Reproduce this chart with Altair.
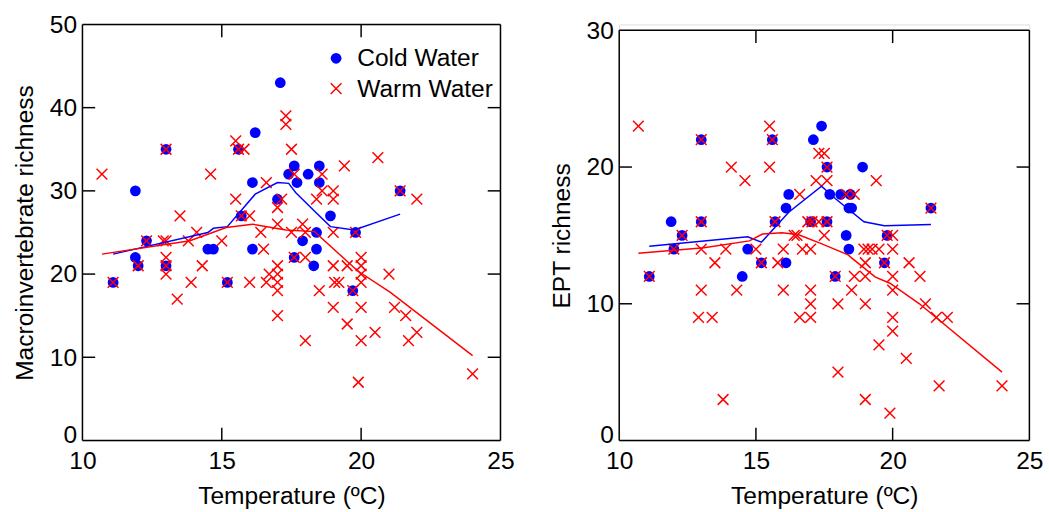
import altair as alt
import pandas as pd

FONT = "Liberation Sans"
XPATH = "M-1,-1L1,1M-1,1L1,-1"
BLUE = "#0000ff"
RED = "#ff0000"

# ---------------- Left panel: Macroinvertebrate richness ----------------
cold_t_L = [11.1, 11.9, 11.9, 12.0, 12.3, 13.0, 13.0, 14.5, 14.7, 15.2, 15.6, 15.7, 16.1, 16.1, 16.2, 17.0,
            17.1, 17.4, 17.6, 17.6, 17.7, 17.9, 18.1, 18.3, 18.4, 18.4, 18.5, 18.5, 18.9, 19.7, 19.8, 21.4]
cold_r_L = [19, 30, 22, 21, 24, 35, 21, 23, 23, 19, 35, 27, 31, 23, 37, 29,
            43, 32, 33, 22, 31, 24, 32, 21, 25, 23, 33, 31, 27, 18, 25, 30]

warm_t_L = [10.7, 11.1, 12.0, 12.3, 12.9, 13.0, 13.0, 13.0, 13.0, 13.0, 13.4, 13.5, 13.8, 13.9, 14.1, 14.3,
            14.6, 15.0, 15.2, 15.5, 15.5, 15.6, 15.7, 15.8, 16.0, 16.0, 16.4, 16.5, 16.6, 16.6, 16.7, 17.0,
            17.0, 17.0, 17.0, 17.0, 17.0, 17.0, 17.15, 17.3, 17.3, 17.5, 17.5, 17.6, 17.6, 17.9, 18.0, 18.0,
            18.0, 18.4, 18.5, 18.6, 18.6, 19.0, 19.0, 19.0, 19.0, 19.0, 19.05, 19.2, 19.4, 19.5, 19.5, 19.7,
            19.8, 19.9, 20.0, 20.0, 20.0, 20.0, 20.0, 20.0, 20.5, 20.6, 21.0, 21.2, 21.4, 21.6, 21.7, 22.0,
            22.0, 24.0]
warm_r_L = [32, 19, 21, 24, 24, 24, 35, 22, 21, 20, 17, 27, 24, 19, 25, 21,
            32, 24, 19, 36, 29, 35, 27, 35, 27, 19, 25, 23, 31, 19, 20, 28,
            26, 21, 20, 19, 18, 15, 29, 39, 38, 35, 25, 32, 22, 26, 25, 22,
            12, 29, 18, 32, 30, 30, 29, 25, 21, 16, 19, 19, 33, 21, 14, 18,
            25, 7, 22, 21, 20, 19, 16, 12, 13, 34, 20, 16, 30, 15, 12, 13,
            29, 8]

cold_line_t_L = [11.1, 14.5, 14.7, 15.2, 16.2, 17.0, 17.4, 17.65, 18.35, 18.9, 19.75, 21.4]
cold_line_r_L = [22.4, 25.0, 25.5, 25.7, 29.6, 31.0, 30.9, 29.8, 27.5, 25.7, 25.3, 27.2]
warm_line_t_L = [10.7, 13.86, 15.16, 16.1, 16.93, 17.3, 18.34, 18.46, 19.87, 21.05, 24.0]
warm_line_r_L = [22.4, 24.0, 25.6, 26.0, 25.5, 25.3, 25.1, 24.7, 20.4, 17.8, 10.2]

# ---------------- Right panel: EPT richness ----------------
cold_t_R = [11.1, 11.9, 12.0, 12.3, 13.0, 13.0, 14.5, 14.7, 15.2, 15.6, 15.7, 16.1, 16.1, 16.2, 17.0, 17.1,
            17.4, 17.6, 17.6, 17.7, 17.9, 18.1, 18.3, 18.4, 18.4, 18.45, 18.5, 18.9, 19.7, 19.8, 21.4]
cold_r_R = [12, 16, 14, 15, 22, 16, 12, 14, 13, 22, 16, 13, 17, 18, 16, 22,
            23, 20, 16, 18, 12, 18, 15, 14, 17, 18, 17, 20, 13, 15, 17]

warm_t_R = [10.7, 11.1, 12.0, 12.3, 12.9, 13.0, 13.0, 13.0, 13.0, 13.4, 13.5, 13.8, 13.9, 14.1, 14.3, 14.6,
            15.0, 15.2, 15.5, 15.5, 15.6, 15.7, 15.8, 16.0, 16.0, 16.4, 16.5, 16.6, 16.6, 16.7, 16.9, 17.05,
            17.0, 17.0, 17.0, 17.0, 17.2, 17.3, 17.3, 17.5, 17.5, 17.6, 17.6, 17.6, 17.9, 18.0, 18.0, 18.3,
            18.5, 18.6, 18.6, 18.95, 19.0, 19.0, 19.0, 19.0, 19.1, 19.25, 19.4, 19.5, 19.5, 19.7, 19.8, 19.9,
            20.0, 20.0, 20.0, 20.0, 20.0, 20.0, 20.5, 20.6, 21.0, 21.2, 21.4, 21.6, 21.7, 22.0, 24.0]
warm_r_R = [23, 12, 14, 15, 9, 22, 16, 14, 11, 9, 13, 3, 14, 20, 11, 19,
            14, 13, 23, 20, 22, 16, 13, 14, 11, 15, 15, 18, 9, 14, 16, 16,
            14, 11, 10, 9, 19, 21, 16, 21, 15, 20, 19, 16, 12, 10, 5, 18,
            11, 18, 12, 14, 13, 12, 10, 3, 14, 14, 19, 14, 7, 13, 15, 2,
            15, 14, 12, 11, 9, 8, 6, 13, 12, 10, 17, 9, 4, 9, 4]

cold_line_t_R = [11.1, 14.7, 15.2, 15.7, 16.2, 17.4, 17.9, 18.95, 19.7, 21.4]
cold_line_r_R = [14.2, 14.9, 14.5, 15.6, 16.7, 18.6, 17.7, 16.0, 15.7, 15.8]
warm_line_t_R = [10.7, 13.1, 14.76, 15.24, 15.96, 16.56, 17.39, 18.35, 18.53, 19.37, 19.9, 20.98, 24.0]
warm_line_r_R = [13.7, 14.1, 14.6, 15.1, 15.2, 15.05, 14.4, 13.6, 13.3, 11.95, 11.5, 10.0, 5.0]

x_ticks = [10, 15, 20, 25]
x_inner_ticks = [15, 20]
y_ticks_L = [0, 10, 20, 30, 40, 50]
y_inner_ticks_L = [10, 20, 30, 40]
y_ticks_R = [0, 10, 20, 30]
y_inner_ticks_R = [10, 20]

SERIES = ["Cold Water", "Warm Water"]
FS = 25
TICK = 13


def panel(ct, cr, wt, wr, clt, clr, wlt, wlr, ymax, yvals, yinner, ytitle, W, H, ytop, legx, legy):
    pts = pd.DataFrame({
        "T": ct + wt,
        "R": cr + wr,
        "Series": [SERIES[0]] * len(ct) + [SERIES[1]] * len(wt),
    })
    xsc = alt.Scale(domain=[10, 25], nice=False, zero=False)
    ysc = alt.Scale(domain=[0, ymax], nice=False, zero=False, range=[H, ytop])
    xax = alt.Axis(values=x_ticks, ticks=False, domain=False, grid=False, labelFontSize=FS,
                   labelPadding=9, title="Temperature (ºC)", titleFontSize=FS,
                   titleFontWeight="normal", titlePadding=10, labelFlush=False, labelOverlap=False)
    yax = alt.Axis(values=yvals, ticks=False, domain=False, grid=False, labelFontSize=FS,
                   labelPadding=6, title=ytitle, titleFontSize=FS, titleFontWeight="normal",
                   titlePadding=12, labelFlush=False, labelOverlap=False,
                   labelOffset={"condition": {"test": "datum.value === 0", "value": -6}, "value": 0})
    leg = alt.Legend(orient="none", legendX=legx, legendY=legy, title=None, labelFontSize=FS,
                     labelFont=FONT, labelColor="black", symbolSize=120, symbolStrokeWidth=1.5,
                     labelOffset=9, rowPadding=5, padding=0)
    sdom = alt.Scale(domain=SERIES, range=["circle", XPATH])
    fdom = alt.Scale(domain=SERIES, range=[BLUE, "transparent"])
    kdom = alt.Scale(domain=SERIES, range=["transparent", RED])

    points = alt.Chart(pts).mark_point(filled=True, size=120, strokeWidth=1.5, opacity=1).encode(
        x=alt.X("T:Q", scale=xsc, axis=xax),
        y=alt.Y("R:Q", scale=ysc, axis=yax),
        shape=alt.Shape("Series:N", scale=sdom, legend=leg),
        fill=alt.Fill("Series:N", scale=fdom, legend=leg),
        stroke=alt.Stroke("Series:N", scale=kdom, legend=leg),
    )
    cl = alt.Chart(pd.DataFrame({"T": clt, "R": clr})).mark_line(color=BLUE, strokeWidth=1.5).encode(
        x="T:Q", y="R:Q")
    wl = alt.Chart(pd.DataFrame({"T": wlt, "R": wlr})).mark_line(color=RED, strokeWidth=1.5).encode(
        x="T:Q", y="R:Q")

    # frame
    fr = dict(color="black", strokeWidth=1.5)
    f_bot = alt.Chart().mark_rule(**fr).encode(x=alt.datum(10), x2=alt.datum(25), y=alt.datum(0))
    f_top = alt.Chart().mark_rule(**fr).encode(x=alt.datum(10), x2=alt.datum(25), y=alt.datum(ymax))
    f_lef = alt.Chart().mark_rule(**fr).encode(x=alt.datum(10), y=alt.datum(0), y2=alt.datum(ymax))
    f_rig = alt.Chart().mark_rule(**fr).encode(x=alt.datum(25), y=alt.datum(0), y2=alt.datum(ymax))

    # inward ticks
    ydf = pd.DataFrame({"R": yinner})
    xdf = pd.DataFrame({"T": x_inner_ticks})
    t_l = alt.Chart(ydf).mark_rule(**fr).encode(y="R:Q", x=alt.value(0), x2=alt.value(TICK))
    t_r = alt.Chart(ydf).mark_rule(**fr).encode(y="R:Q", x=alt.value(W - TICK), x2=alt.value(W))
    t_t = alt.Chart(xdf).mark_rule(**fr).encode(x="T:Q", y=alt.value(ytop), y2=alt.value(ytop + TICK))
    t_b = alt.Chart(xdf).mark_rule(**fr).encode(x="T:Q", y=alt.value(H - TICK), y2=alt.value(H))

    return alt.layer(points, cl, wl, f_bot, f_top, f_lef, f_rig, t_l, t_r, t_t, t_b).properties(
        width=W, height=H)


left = panel(cold_t_L, cold_r_L, warm_t_L, warm_r_L, cold_line_t_L, cold_line_r_L,
             warm_line_t_L, warm_line_r_L, 50, y_ticks_L, y_inner_ticks_L,
             "Macroinvertebrate richness", 426, 424, 0, 246, 22)
right = panel(cold_t_R, cold_r_R, warm_t_R, warm_r_R, cold_line_t_R, cold_line_r_R,
              warm_line_t_R, warm_line_r_R, 30, y_ticks_R, y_inner_ticks_R,
              "EPT richness", 418, 424, 6, 247, 31)

chart = alt.hconcat(left, right, spacing=34).properties(
    padding={"left": 12, "top": 7, "right": 5, "bottom": 0}
).configure_view(stroke=None).configure_axis(
    labelFont=FONT, titleFont=FONT, labelColor="black", titleColor="black"
).configure(background="white")

chart.save("out.html", embed_options={"renderer": "svg", "actions": False})
